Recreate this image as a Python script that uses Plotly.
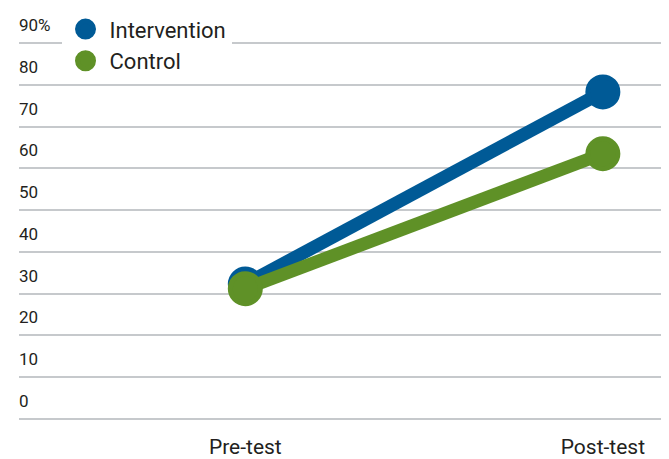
import plotly.graph_objects as go

categories = ["Pre-test", "Post-test"]
intervention = [32.3, 78.3]
control = [31.2, 63.5]
tick_vals = [0, 10, 20, 30, 40, 50, 60, 70, 80, 90]
tick_text = ["0", "10", "20", "30", "40", "50", "60", "70", "80", "90%"]

BLUE = "#005a96"
GREEN = "#5f9127"
TEXT = "#231f20"
GRID = "#c6c9cc"
FONT = "Roboto"

fig = go.Figure()
for name, vals, col in [("Intervention", intervention, BLUE), ("Control", control, GREEN)]:
    fig.add_trace(go.Scatter(
        x=categories, y=vals, mode="lines+markers", name=name,
        line=dict(color=col, width=13),
        marker=dict(color=col, size=30, line=dict(color=col, width=5)),
        showlegend=False, hoverinfo="skip",
    ))
for name, col in [("Intervention", BLUE), ("Control", GREEN)]:
    fig.add_trace(go.Scatter(
        x=[None], y=[None], mode="markers", name=name,
        marker=dict(color=col, size=30, line=dict(color=col, width=5)),
        showlegend=True,
    ))

for v, t in zip(tick_vals, tick_text):
    fig.add_annotation(
        x=0, xref="paper", xanchor="left", y=v, yref="y", yanchor="middle",
        yshift=18, xshift=-2, text=t, showarrow=False,
        font=dict(family=FONT, size=17, color=TEXT),
    )

fig.update_layout(
    width=661, height=451,
    margin=dict(l=11, r=0, t=33, b=36),
    paper_bgcolor="white", plot_bgcolor="white",
    font=dict(family=FONT, color=TEXT),
    legend=dict(
        x=0.0654, xanchor="left", y=1.086, yanchor="top",
        bgcolor="white", font=dict(family=FONT, size=22, color=TEXT),
        tracegroupgap=0, itemsizing="trace", itemwidth=38,
    ),
    xaxis=dict(
        type="category", range=[-0.633, 1.185], showgrid=False, zeroline=False,
        showline=False, ticks="", ticklabelstandoff=11,
        tickfont=dict(family=FONT, size=21, color=TEXT),
    ),
    yaxis=dict(
        range=[-0.5, 90.5], tickvals=tick_vals, showticklabels=False,
        showgrid=True, gridcolor=GRID, gridwidth=2, zeroline=False, showline=False,
    ),
)
fig.write_html("out.html")
